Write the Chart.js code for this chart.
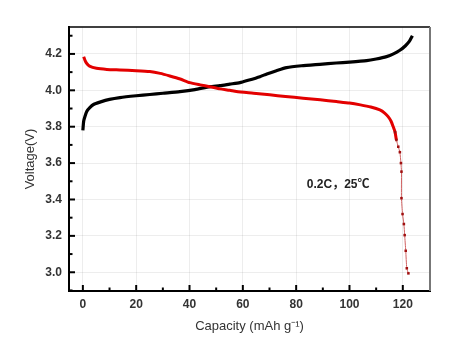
<!DOCTYPE html>
<html>
<head>
<meta charset="utf-8">
<script src="https://cdn.jsdelivr.net/npm/chart.js@4/dist/chart.umd.min.js"></script>
<style>
html,body{margin:0;padding:0;background:#fff;}
#wrap{width:455px;height:351px;}
</style>
</head>
<body>
<div id="wrap"><canvas id="c" width="455" height="351"></canvas></div>
<script>
// Charge curve (black)
const chargeCap = [0, 0.3, 0.75, 1.5, 2.6, 4, 6.4, 10, 13.9, 20, 25.1, 30, 36.4, 42, 47.6, 51.4, 55.1, 58.9, 62, 66.4, 69, 72.6, 76.4, 82, 88.9, 95, 100, 106.4, 110, 113.9, 116.5, 118.9, 121, 122.5, 123.6];
const chargeV   = [3.78, 3.83, 3.855, 3.885, 3.905, 3.922, 3.935, 3.95, 3.96, 3.97, 3.977, 3.984, 3.993, 4.004, 4.02, 4.026, 4.034, 4.042, 4.055, 4.075, 4.09, 4.108, 4.125, 4.135, 4.143, 4.15, 4.155, 4.163, 4.172, 4.185, 4.2, 4.22, 4.245, 4.27, 4.30];
// Discharge curve (red)
const dischargeCap = [0.3, 0.8, 1.4, 2.5, 5.1, 9, 13.9, 20, 25.1, 29, 32.6, 36.5, 40.1, 44, 47.6, 51.5, 55.1, 57.6, 64, 70.1, 76, 82.6, 89, 95.1, 100, 104.1, 108, 111.4, 113.2, 114.5, 115.6, 116.4, 117.1, 117.6, 118.3, 118.9, 119.3, 119.5, 119.5, 119.9, 120.4, 120.7, 121.1, 121.5, 122.1];
const dischargeV   = [4.185, 4.165, 4.149, 4.133, 4.121, 4.115, 4.112, 4.108, 4.103, 4.093, 4.079, 4.062, 4.042, 4.03, 4.02, 4.008, 4.0, 3.993, 3.984, 3.975, 3.966, 3.957, 3.948, 3.938, 3.93, 3.92, 3.908, 3.892, 3.875, 3.855, 3.83, 3.80, 3.77, 3.727, 3.69, 3.66, 3.6, 3.553, 3.407, 3.32, 3.265, 3.204, 3.118, 3.022, 2.994];
const xTickValues = [0, 20, 40, 60, 80, 100, 120];
const yTickValues = [3.0, 3.2, 3.4, 3.6, 3.8, 4.0, 4.2];
const xTitle = 'Capacity (mAh g⁻¹)';
const yTitle = 'Voltage(V)';
const noteText = '0.2C，25℃';
const notePos = {x: 84, y: 3.48};

const toPts = (xs, ys) => xs.map((x, i) => ({x, y: ys[i]}));

const frame = {
  id: 'frame',
  afterDraw(chart) {
    const {ctx, chartArea: a, scales} = chart;
    const xs = scales.x, ys = scales.y;
    ctx.save();
    ctx.strokeStyle = '#000'; ctx.lineWidth = 1.5;
    ctx.beginPath(); ctx.moveTo(a.left, a.top); ctx.lineTo(a.right, a.top); ctx.stroke();
    ctx.strokeStyle = '#777'; ctx.lineWidth = 2;
    ctx.beginPath(); ctx.moveTo(a.right, a.top); ctx.lineTo(a.right, a.bottom); ctx.stroke();
    ctx.strokeStyle = '#000'; ctx.lineWidth = 2;
    for (let v = 0; v <= 125; v += 10) {
      const px = xs.getPixelForValue(v);
      const len = (v % 20 === 0) ? 6 : 3.5;
      ctx.beginPath(); ctx.moveTo(px, a.bottom); ctx.lineTo(px, a.bottom - len); ctx.stroke();
    }
    for (let k = 29; k <= 43; k++) {
      const v = k / 10;
      const py = ys.getPixelForValue(v);
      const len = (k % 2 === 0) ? 6 : 3.5;
      ctx.beginPath(); ctx.moveTo(a.left, py); ctx.lineTo(a.left + len, py); ctx.stroke();
    }
    ctx.fillStyle = '#222';
    ctx.font = 'bold 12px "Liberation Sans", "Noto Sans CJK SC", sans-serif';
    ctx.textBaseline = 'middle';
    ctx.textAlign = 'left';
    ctx.fillText(noteText, xs.getPixelForValue(notePos.x), ys.getPixelForValue(notePos.y));
    ctx.restore();
  }
};

new Chart(document.getElementById('c'), {
  type: 'line',
  data: {
    datasets: [
      {
        label: 'charge',
        data: toPts(chargeCap, chargeV),
        borderColor: '#000',
        backgroundColor: '#000',
        borderWidth: 3.2,
        pointRadius: 0,
        tension: 0.2,
        order: 2
      },
      {
        label: 'discharge',
        data: toPts(dischargeCap, dischargeV),
        borderColor: '#e30000',
        backgroundColor: '#a01010',
        borderWidth: 3,
        pointStyle: 'rect',
        pointRadius: ctx => (ctx.raw && ctx.raw.y < 3.78 ? 1.8 : 0),
        pointBorderWidth: 0,
        segment: {
          borderWidth: ctx => (ctx.p1.parsed.y < 3.7 ? 1 : 3),
          borderColor: ctx => (ctx.p1.parsed.y < 3.7 ? '#d06060' : '#e30000')
        },
        tension: 0.2,
        order: 1
      }
    ]
  },
  options: {
    responsive: false,
    animation: false,
    events: [],
    layout: {padding: {left: 23, top: 27, right: 25, bottom: 17}},
    plugins: {legend: {display: false}, tooltip: {enabled: false}},
    scales: {
      x: {
        type: 'linear',
        min: -5.2,
        max: 130.2,
        afterBuildTicks: s => { s.ticks = xTickValues.map(v => ({value: v})); },
        afterFit: s => { s.height = 43; },
        grid: {color: 'rgba(0,0,0,0.07)', lineWidth: 1, drawTicks: false},
        border: {display: true, color: '#000', width: 2},
        ticks: {
          padding: 6,
          color: '#333',
          font: {family: '"Liberation Sans", Arial, sans-serif', size: 12, weight: 'bold'},
          maxRotation: 0
        },
        title: {
          display: true,
          text: xTitle,
          color: '#333',
          padding: {top: 4, bottom: 0},
          font: {family: '"Liberation Sans", Arial, sans-serif', size: 13}
        }
      },
      y: {
        type: 'linear',
        min: 2.897,
        max: 4.348,
        afterBuildTicks: s => { s.ticks = yTickValues.map(v => ({value: v})); },
        afterFit: s => { s.width = 46; },
        grid: {color: 'rgba(0,0,0,0.07)', lineWidth: 1, drawTicks: false},
        border: {display: true, color: '#000', width: 2},
        ticks: {
          padding: 7,
          color: '#333',
          font: {family: '"Liberation Sans", Arial, sans-serif', size: 12, weight: 'bold'},
          callback: v => Number(v).toFixed(1)
        },
        title: {
          display: true,
          text: yTitle,
          color: '#333',
          padding: {top: 0, bottom: 0},
          font: {family: '"Liberation Sans", Arial, sans-serif', size: 13}
        }
      }
    }
  },
  plugins: [frame]
});
</script>
</body>
</html>
